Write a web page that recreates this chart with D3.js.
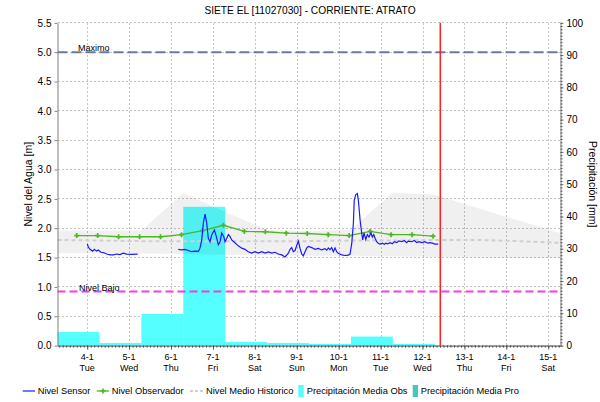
<!DOCTYPE html>
<html><head><meta charset="utf-8">
<script src="https://cdn.jsdelivr.net/npm/d3@7/dist/d3.min.js"></script>
<style>
body{margin:0;background:#fff}
svg{display:block}
text{font-family:"Liberation Sans",Arial,sans-serif;fill:#000}
</style>
</head><body>
<svg id="c" width="600" height="402"></svg>
<script>
// ---------------- DATA ----------------
const title = "SIETE EL [11027030] - CORRIENTE: ATRATO";
const yLabelLeft = "Nivel del Agua [m]";
const yLabelRight = "Precipitación [mm]";
const levelTicks = [0, 0.5, 1, 1.5, 2, 2.5, 3, 3.5, 4, 4.5, 5, 5.5];
const precipTicks = [0, 10, 20, 30, 40, 50, 60, 70, 80, 90, 100];
const dayTicks = ["01-04 00:00","01-05 00:00","01-06 00:00","01-07 00:00","01-08 00:00","01-09 00:00",
                  "01-10 00:00","01-11 00:00","01-12 00:00","01-13 00:00","01-14 00:00","01-15 00:00"];
const dayLabels = ["4-1","5-1","6-1","7-1","8-1","9-1","10-1","11-1","12-1","13-1","14-1","15-1"];
const weekdayLabels = ["Tue","Wed","Thu","Fri","Sat","Sun","Mon","Tue","Wed","Thu","Fri","Sat"];
const timeDomain = ["01-03 07:00", "01-15 07:00"];
const levelDomain = [0, 5.5];
const precipDomain = [0, 100];

// daily precipitation (07:00 -> 07:00)
const precipStart = ["01-03 07:00","01-04 07:00","01-05 07:00","01-06 07:00","01-07 07:00",
                     "01-08 07:00","01-09 07:00","01-10 07:00","01-11 07:00"];
const precipObs = [4.2, 0.8, 9.8, 43.0, 1.1, 0.8, 0.5, 2.8, 0.5];

// historic band
const histDates = ["01-03 07:00","01-04 07:00","01-05 07:00","01-06 07:00","01-07 07:00","01-08 07:00",
                   "01-09 07:00","01-10 07:00","01-11 07:00","01-12 07:00","01-13 07:00","01-14 07:00","01-15 07:00"];
const histMax  = [1.96, 1.96, 1.96, 2.60, 2.28, 1.97, 1.95, 1.98, 2.61, 2.57, 2.35, 2.13, 1.92];
const histMin  = [1.575,1.575,1.57, 1.56, 1.55, 1.54, 1.53, 1.53, 1.52, 1.51, 1.50, 1.49, 1.49];
const histMean = [1.80, 1.79, 1.78, 1.78, 1.78, 1.78, 1.78, 1.79, 1.79, 1.80, 1.80, 1.78, 1.75];

// observer readings
const obsTimes = ["01-03 18:00","01-04 06:00","01-04 18:00","01-05 06:00","01-05 18:00","01-06 06:00",
                  "01-06 18:00","01-07 06:00","01-07 18:00","01-08 06:00","01-08 18:00","01-09 06:00",
                  "01-09 18:00","01-10 06:00","01-10 18:00","01-11 06:00","01-11 18:00","01-12 06:00"];
const obsLevels = [1.875,1.875,1.855,1.855,1.855,1.89,1.96,2.05,1.945,1.94,1.915,1.91,
                   1.89,1.875,1.945,1.89,1.89,1.865];

// sensor readings (null = gap)
const sensorTimes = [
 "01-04 00:05","01-04 00:40","01-04 01:35","01-04 03:10","01-04 04:05","01-04 05:25","01-04 06:20",
 "01-04 07:55","01-04 09:15","01-04 11:10","01-04 13:05","01-04 14:55","01-04 16:55","01-04 18:45",
 "01-04 20:40","01-04 22:35","01-05 01:30","01-05 04:55","01-05 12:00",
 "01-06 04:10","01-06 06:10","01-06 08:00","01-06 09:55","01-06 11:50","01-06 13:45","01-06 15:40",
 "01-06 16:35","01-06 17:35","01-06 18:30","01-06 19:30","01-06 20:25","01-06 21:20","01-06 22:20",
 "01-06 23:20","01-07 00:50","01-07 01:55","01-07 03:05","01-07 04:05","01-07 05:00","01-07 06:10",
 "01-07 06:55","01-07 07:55","01-07 08:50","01-07 09:45","01-07 10:45","01-07 12:15","01-07 14:30",
 "01-07 16:30","01-07 18:20","01-07 20:15","01-07 22:10","01-08 00:05","01-08 02:00","01-08 03:55",
 "01-08 05:50","01-08 07:45","01-08 09:40","01-08 11:30","01-08 13:25","01-08 15:25","01-08 17:15",
 "01-08 19:10","01-08 20:10","01-08 21:05","01-08 22:00","01-08 23:00","01-08 23:55","01-09 00:55",
 "01-09 01:50","01-09 02:50","01-09 03:45","01-09 04:45","01-09 05:40","01-09 06:35","01-09 08:35",
 "01-09 10:25","01-09 12:20","01-09 14:15","01-09 16:10","01-09 17:10","01-09 18:05","01-09 19:00",
 "01-09 20:00","01-09 20:55","01-09 21:55","01-09 22:50","01-09 23:45","01-10 01:45","01-10 03:40",
 "01-10 05:30","01-10 06:30","01-10 07:30","01-10 08:25","01-10 08:55","01-10 09:45","01-10 10:40",
 "01-10 11:15","01-10 12:15","01-10 13:10","01-10 13:45","01-10 14:30","01-10 15:30","01-10 16:25",
 "01-10 17:20","01-10 18:30","01-10 19:15","01-10 20:05","01-10 20:50","01-10 21:45","01-10 22:40",
 "01-10 23:40","01-11 01:00","01-11 02:10","01-11 02:55","01-11 04:05","01-11 05:25","01-11 06:45",
 "01-11 07:50","01-11 09:15","01-11 10:30","01-11 12:05","01-11 13:35","01-11 14:55","01-11 15:50",
 "01-11 17:50","01-11 19:20","01-11 20:40","01-11 22:00","01-11 23:30","01-12 01:25","01-12 03:00",
 "01-12 04:15","01-12 05:35","01-12 07:10","01-12 09:00"];
const sensorLevels = [
 1.73,1.68,1.64,1.61,1.64,1.61,1.63,
 1.59,1.585,1.56,1.545,1.545,1.56,1.55,
 1.575,1.56,1.555,1.56,null,
 1.64,1.63,1.64,1.62,1.60,1.61,1.605,
 1.66,1.80,2.09,2.24,2.09,1.83,1.77,
 1.89,1.97,1.86,1.72,1.77,1.92,1.86,
 1.77,1.83,1.89,1.86,1.80,1.76,1.70,
 1.66,1.64,1.60,1.575,1.60,1.575,1.60,
 1.575,1.595,1.575,1.59,1.56,1.545,1.51,
 1.575,1.64,1.67,1.60,1.62,1.70,1.78,
 1.66,1.56,1.53,1.60,1.66,1.69,1.67,
 1.64,1.655,1.63,1.65,1.625,1.665,1.635,
 1.67,1.60,1.665,1.60,1.575,1.545,1.535,
 1.54,1.56,1.745,2.09,2.48,2.57,2.59,
 2.48,2.14,1.92,1.80,1.92,1.81,1.89,
 1.85,1.92,1.85,1.89,1.83,1.77,1.745,
 1.73,1.745,1.725,1.745,1.735,1.755,1.735,
 1.77,1.755,1.785,1.77,1.79,1.755,1.78,
 1.77,1.79,1.755,1.77,1.755,1.77,1.745,
 1.755,1.745,1.73,1.73];

const levelMaximo = 5.0, levelBajo = 0.92;
const nowTime = "01-12 10:10";
const legendItems = ["Nivel Sensor","Nivel Observador","Nivel Medio Historico","Precipitación Media Obs","Precipitación Media Pro"];

// ---------------- CHART ----------------
const parse0 = d3.timeParse("%Y-%m-%d %H:%M");
const T = s => parse0("2022-" + s);

const L = 57.5, R = 560.5, TOP = 22.8, BOT = 345.6;
const svg = d3.select("#c");
const x = d3.scaleTime().domain(timeDomain.map(T)).range([L, R]);
const y = d3.scaleLinear().domain(levelDomain).range([BOT, TOP]);
const yP = d3.scaleLinear().domain(precipDomain).range([BOT, TOP]);

const gridC = "#c4c4c4";
// grid
svg.append("g").selectAll("line").data(levelTicks).join("line")
  .attr("x1", L).attr("x2", R).attr("y1", d => y(d)).attr("y2", d => y(d))
  .attr("stroke", gridC).attr("stroke-dasharray", "2,2").attr("stroke-width", 1)
  .attr("shape-rendering", "crispEdges");
svg.append("g").selectAll("line").data(dayTicks.map(T)).join("line")
  .attr("x1", d => Math.round(x(d)) + 0.5).attr("x2", d => Math.round(x(d)) + 0.5)
  .attr("y1", TOP).attr("y2", BOT)
  .attr("stroke", gridC).attr("stroke-dasharray", "2,2").attr("stroke-width", 1)
  .attr("shape-rendering", "crispEdges");

// precipitation bars
const bars = precipStart.map((s, i) => ({t0: T(s), t1: d3.timeDay.offset(T(s), 1), v: precipObs[i]}));
svg.append("g").selectAll("rect").data(bars).join("rect")
  .attr("x", d => x(d.t0)).attr("width", d => x(d.t1) - x(d.t0))
  .attr("y", d => yP(d.v)).attr("height", d => BOT - yP(d.v))
  .attr("fill", "#55ffff");

// historic band
const hist = histDates.map((s, i) => ({t: T(s), lo: histMin[i], hi: histMax[i], m: histMean[i]}));
svg.append("path").datum(hist)
  .attr("d", d3.area().x(d => x(d.t)).y0(d => y(d.lo)).y1(d => y(d.hi)))
  .attr("fill", "#000").attr("fill-opacity", 0.06);
svg.append("path").datum(hist)
  .attr("d", d3.line().x(d => x(d.t)).y(d => y(d.m)))
  .attr("fill", "none").attr("stroke", "#cfcfcf").attr("stroke-width", 2).attr("stroke-dasharray", "4,3");

// reference lines
svg.append("line").attr("x1", L).attr("x2", R).attr("y1", y(levelMaximo)).attr("y2", y(levelMaximo))
  .attr("stroke", "#6b78a6").attr("stroke-width", 2).attr("stroke-dasharray", "10,4");
svg.append("line").attr("x1", L).attr("x2", R).attr("y1", y(levelBajo)).attr("y2", y(levelBajo))
  .attr("stroke", "#ee3cee").attr("stroke-width", 2).attr("stroke-dasharray", "8,4");
svg.append("text").attr("x", 78).attr("y", y(levelMaximo) - 1).attr("font-size", "9px").text("Maximo");
svg.append("text").attr("x", 79).attr("y", y(levelBajo) - 1).attr("font-size", "9px").text("Nivel Bajo");

// observer line
const obs = obsTimes.map((s, i) => ({t: T(s), v: obsLevels[i]}));
svg.append("path").datum(obs)
  .attr("d", d3.line().x(d => x(d.t)).y(d => y(d.v)))
  .attr("fill", "none").attr("stroke", "#4cb820").attr("stroke-width", 1.3);
svg.append("g").selectAll("path").data(obs).join("path")
  .attr("transform", d => `translate(${x(d.t)},${y(d.v)})`)
  .attr("d", d3.symbol().type(d3.symbolCross).size(14))
  .attr("fill", "#4cb820");

// sensor line
const sensor = sensorTimes.map((s, i) => ({t: T(s), v: sensorLevels[i]}));
svg.append("path").datum(sensor)
  .attr("d", d3.line().defined(d => d.v !== null).x(d => x(d.t)).y(d => y(d.v)))
  .attr("fill", "none").attr("stroke", "#1a1aff").attr("stroke-width", 1.2);

// now line
svg.append("line").attr("x1", x(T(nowTime))).attr("x2", x(T(nowTime))).attr("y1", TOP).attr("y2", BOT)
  .attr("stroke", "#ff2020").attr("stroke-width", 1.5);

// axes
const axC = "#808080";
const gl = svg.append("g").attr("transform", `translate(${L},0)`)
  .call(d3.axisLeft(y).tickValues(levelTicks).tickFormat(d3.format(".1f")).tickSize(3).tickSizeOuter(0).tickPadding(3));
gl.selectAll("text").attr("font-size", "10px").attr("font-family", "Liberation Sans, Arial, sans-serif");
gl.selectAll("path,line").attr("stroke", axC);

const gr = svg.append("g").attr("transform", `translate(${R},0)`)
  .call(d3.axisRight(yP).tickValues(precipTicks).tickSize(3).tickSizeOuter(0).tickPadding(3));
gr.selectAll("text").attr("font-size", "10px").attr("font-family", "Liberation Sans, Arial, sans-serif");
gr.selectAll("path,line").attr("stroke", axC);
const grm = svg.append("g").attr("transform", `translate(${R},0)`)
  .call(d3.axisRight(yP).tickValues(d3.range(0, 101, 1)).tickSize(2).tickSizeOuter(0).tickFormat(""));
grm.selectAll("path").remove();
grm.selectAll("line").attr("stroke", "#555");

// bottom axis
const gb = svg.append("g").attr("transform", `translate(0,${BOT})`)
  .call(d3.axisBottom(x).tickValues(dayTicks.map(T)).tickSize(4).tickSizeOuter(0).tickFormat(""));
gb.selectAll("path,line").attr("stroke", "#555");
const hours = d3.timeHour.every(2).range(T(timeDomain[0]), T(timeDomain[1]));
const gbm = svg.append("g").attr("transform", `translate(0,${BOT})`)
  .call(d3.axisBottom(x).tickValues(hours).tickSize(2).tickSizeOuter(0).tickFormat(""));
gbm.selectAll("path").remove();
gbm.selectAll("line").attr("stroke", "#444");

const xl = svg.append("g");
dayTicks.forEach((s, i) => {
  const xx = x(T(s));
  xl.append("text").attr("x", xx).attr("y", 359.5).attr("text-anchor", "middle").attr("font-size", "9px").text(dayLabels[i]);
  xl.append("text").attr("x", xx).attr("y", 370.5).attr("text-anchor", "middle").attr("font-size", "9px").text(weekdayLabels[i]);
});

// titles
svg.append("text").attr("x", 310).attr("y", 14).attr("text-anchor", "middle").attr("font-size", "10.2px").text(title);
svg.append("text").attr("transform", `translate(32,${(TOP + BOT) / 2}) rotate(-90)`)
  .attr("text-anchor", "middle").attr("font-size", "10.5px").text(yLabelLeft);
svg.append("text").attr("transform", `translate(589,${(TOP + BOT) / 2}) rotate(90)`)
  .attr("text-anchor", "middle").attr("font-size", "10.5px").text(yLabelRight);

// legend
const lg = svg.append("g").attr("font-size", "9.3px");
const ly = 391;
lg.append("line").attr("x1", 22.7).attr("x2", 35).attr("y1", ly).attr("y2", ly).attr("stroke", "#1a1aff").attr("stroke-width", 1.2);
lg.append("text").attr("x", 37.7).attr("y", ly + 3.3).text(legendItems[0]);
lg.append("line").attr("x1", 96.7).attr("x2", 109).attr("y1", ly).attr("y2", ly).attr("stroke", "#4cb820").attr("stroke-width", 1.3);
lg.append("path").attr("transform", `translate(103,${ly})`).attr("d", d3.symbol().type(d3.symbolCross).size(14)).attr("fill", "#4cb820");
lg.append("text").attr("x", 111.7).attr("y", ly + 3.3).text(legendItems[1]);
lg.append("line").attr("x1", 190).attr("x2", 203).attr("y1", ly).attr("y2", ly).attr("stroke", "#cfcfcf").attr("stroke-width", 2).attr("stroke-dasharray", "3,2");
lg.append("text").attr("x", 206).attr("y", ly + 3.3).text(legendItems[2]);
lg.append("rect").attr("x", 298.3).attr("y", 385).attr("width", 5.4).attr("height", 12).attr("fill", "#55ffff");
lg.append("text").attr("x", 306.7).attr("y", ly + 3.3).text(legendItems[3]);
lg.append("rect").attr("x", 412.7).attr("y", 385).attr("width", 5.4).attr("height", 12).attr("fill", "#48c6bd");
lg.append("text").attr("x", 420.7).attr("y", ly + 3.3).text(legendItems[4]);
</script>
</body></html>
